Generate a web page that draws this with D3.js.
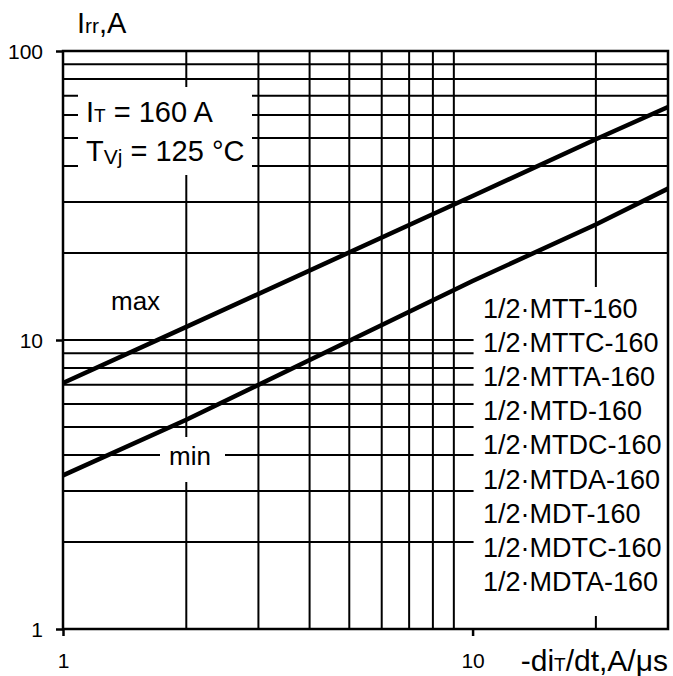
<!DOCTYPE html>
<meta charset="utf-8">
<html>
<head>
<style>
  body { margin: 0; background: #fff; }
  text { font-family: "Liberation Sans", Arial, sans-serif; fill: #000; }
</style>
</head>
<body>
<div id="chart"></div>
<script src="https://d3js.org/d3.v7.min.js"></script>
<script>

  // data
  var xTicks = [1, 10];
  var yTicks = [1, 10, 100];
  var xGrid = [2, 3, 4, 5, 6, 7, 8, 9, 20];
  var yGrid = [2, 3, 4, 5, 6, 7, 8, 9, 20, 30, 40, 50, 60, 70, 80, 90];
  var didt = [1, 2, 10, 20, 30];
  var irrMax = [7.1, 11.1, 31.5, 49.5, 64];
  var irrMin = [3.4, 5.3, 16, 25.1, 33.4];
  var models = ["1/2·MTT-160", "1/2·MTTC-160", "1/2·MTTA-160", "1/2·MTD-160",
                "1/2·MTDC-160", "1/2·MTDA-160", "1/2·MDT-160", "1/2·MDTC-160",
                "1/2·MDTA-160"];

  var W = 673, H = 676;
  var margin = {top: 51, right: 5, bottom: 47, left: 63};

  var svg = d3.select("#chart")
    .append("svg")
      .attr("width", W)
      .attr("height", H);

  var x = d3.scaleLog()
    .domain([1, 30])
    .range([margin.left, W - margin.right]);

  var y = d3.scaleLog()
    .domain([1, 100])
    .range([H - margin.bottom, margin.top]);

  // grid
  svg.append("g").selectAll("line")
    .data(xGrid).enter().append("line")
      .attr("x1", function(d) { return x(d); })
      .attr("x2", function(d) { return x(d); })
      .attr("y1", y(1)).attr("y2", y(100))
      .attr("stroke", "#000").attr("stroke-width", 2);

  svg.append("g").selectAll("line")
    .data(yGrid.concat([10])).enter().append("line")
      .attr("x1", x(1)).attr("x2", x(30))
      .attr("y1", function(d) { return y(d); })
      .attr("y2", function(d) { return y(d); })
      .attr("stroke", "#000").attr("stroke-width", 2);

  // white boxes behind the labels
  svg.append("rect")  // conditions
    .attr("x", 78).attr("y", 87).attr("width", 174).attr("height", 88)
    .attr("fill", "#fff");
  svg.append("rect")  // min
    .attr("x", 160).attr("y", 437).attr("width", 65).attr("height", 45)
    .attr("fill", "#fff");
  svg.append("rect")  // type list
    .attr("x", x(10) + 1).attr("y", 287)
    .attr("width", x(30) - x(10) - 1).attr("height", 329)
    .attr("fill", "#fff");

  // curves
  var line = d3.line()
    .x(function(d) { return x(d[0]); })
    .y(function(d) { return y(d[1]); });

  [irrMax, irrMin].forEach(function(s) {
    svg.append("path")
      .datum(didt.map(function(v, i) { return [v, s[i]]; }))
      .attr("fill", "none")
      .attr("stroke", "#000")
      .attr("stroke-width", 4.5)
      .attr("d", line);
  });

  // frame
  svg.append("rect")
    .attr("x", x(1)).attr("y", y(100))
    .attr("width", x(30) - x(1)).attr("height", y(1) - y(100))
    .attr("fill", "none").attr("stroke", "#000").attr("stroke-width", 2.5);

  // axes
  var yAxis = svg.append("g")
    .attr("transform", "translate(" + x(1) + ",0)")
    .call(d3.axisLeft(y).tickValues(yTicks).tickFormat(d3.format("d"))
      .tickSize(7).tickPadding(13));
  var xAxis = svg.append("g")
    .attr("transform", "translate(0," + y(1) + ")")
    .call(d3.axisBottom(x).tickValues(xTicks).tickFormat(d3.format("d"))
      .tickSize(7).tickPadding(17));
  [yAxis, xAxis].forEach(function(a) {
    a.select(".domain").remove();
    a.selectAll("line").attr("stroke", "#000").attr("stroke-width", 2.5);
    a.selectAll("text").style("font-size", "21px").attr("fill", "#000")
      .style("font-family", "'Liberation Sans', Arial, sans-serif");
  });
  yAxis.selectAll("text").attr("dy", "0.36em");

  // axis titles
  var t = svg.append("text").attr("x", 77).attr("y", 33).style("font-size", "29px");
  t.append("tspan").text("I");
  t.append("tspan").text("rr").style("font-size", "21px");
  t.append("tspan").text(",A");

  t = svg.append("text").attr("x", 668).attr("y", 671)
    .attr("text-anchor", "end").style("font-size", "30px");
  t.append("tspan").text("-di");
  t.append("tspan").text("T").style("font-size", "19px");
  t.append("tspan").text("/dt,A/μs");

  // conditions
  t = svg.append("text").attr("x", 86).attr("y", 122).style("font-size", "29px");
  t.append("tspan").text("I");
  t.append("tspan").text("T").style("font-size", "19px");
  t.append("tspan").text(" = 160 A");

  t = svg.append("text").attr("x", 86).attr("y", 161).style("font-size", "29px");
  t.append("tspan").text("T");
  t.append("tspan").text("Vj").style("font-size", "21px").attr("dy", 3);
  t.append("tspan").text(" = 125 °C").attr("dy", -3);

  svg.append("text").attr("x", 111).attr("y", 310).style("font-size", "26px").text("max");
  svg.append("text").attr("x", 169).attr("y", 465).style("font-size", "26px").text("min");

  svg.append("g").selectAll("text")
    .data(models).enter().append("text")
      .attr("x", 483)
      .attr("y", function(d, i) { return 318 + i * 34.1; })
      .style("font-size", "27px")
      .text(function(d) { return d; });

</script>
</body>
</html>
